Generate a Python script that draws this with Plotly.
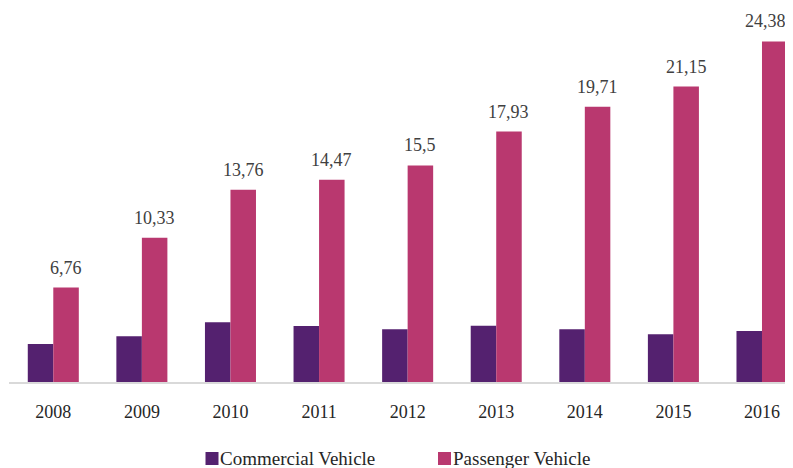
import plotly.graph_objects as go

years = ["2008", "2009", "2010", "2011", "2012", "2013", "2014", "2015", "2016"]
commercial = [2.72, 3.27, 4.27, 4.01, 3.77, 4.03, 3.77, 3.41, 3.65]
passenger = [6.76, 10.33, 13.76, 14.47, 15.5, 17.93, 19.71, 21.15, 24.38]
passenger_labels = ["6,76", "10,33", "13,76", "14,47", "15,5", "17,93", "19,71", "21,15", "24,38"]
series_names = ["Commercial Vehicle", "Passenger Vehicle"]
colors = ["#54216F", "#B9386F"]

font_family = "Liberation Serif, Times New Roman, serif"

# the page body adds an 8px offset; plot area spans window x 9..793, y 8..382
PLOT_W = 784.0
PLOT_H = 374.0
BARGAP = 0.424
cat_px = PLOT_W / 8.85
bar_px = cat_px * (1 - BARGAP) / 2

fig = go.Figure()
fig.add_trace(go.Bar(x=years, y=commercial, name=series_names[0],
                     marker=dict(color=colors[0], line=dict(width=0))))
fig.add_trace(go.Bar(x=years, y=passenger, name=series_names[1],
                     marker=dict(color=colors[1], line=dict(width=0))))

n = len(passenger)
for i, (val, lab) in enumerate(zip(passenger, passenger_labels)):
    # the last label is nudged left so it stays inside the figure, as in the reference
    shift = bar_px / 2 - (9 if i == n - 1 else 0)
    fig.add_annotation(x=i, y=val, xref="x", yref="y", text=lab, showarrow=False,
                       xanchor="center", yanchor="bottom", xshift=shift, yshift=8,
                       font=dict(family=font_family, size=18, color="#404040"))

fig.update_layout(
    width=785, height=460,
    margin=dict(l=1, r=0, t=0, b=86),
    paper_bgcolor="white", plot_bgcolor="white",
    barmode="group", bargap=BARGAP, bargroupgap=0,
    showlegend=False,
    font=dict(family=font_family, size=18, color="#262626"),
    xaxis=dict(type="category", range=[-0.5, 8.35], showline=True, linecolor="#D9D9D9",
               linewidth=2, ticks="", showgrid=False, ticklabelstandoff=12,
               tickfont=dict(family=font_family, size=18, color="#262626")),
    yaxis=dict(range=[0, PLOT_H / 13.97], visible=False, showgrid=False),
)

# manual legend, in window pixel coordinates converted to paper units
legend_x = [205.5, 438.0]
for i, name in enumerate(series_names):
    fig.add_shape(type="rect", xref="paper", yref="paper",
                  x0=(legend_x[i] - 9) / PLOT_W, x1=(legend_x[i] + 4) / PLOT_W,
                  y0=(382 - 465) / PLOT_H, y1=(382 - 452) / PLOT_H,
                  fillcolor=colors[i], line=dict(width=0))
    fig.add_annotation(xref="paper", yref="paper",
                       x=(legend_x[i] + 4.5 - 1) / PLOT_W, y=(382 - 458.5) / PLOT_H,
                       xanchor="left", yanchor="middle", showarrow=False,
                       text=name, font=dict(family=font_family, size=19, color="#262626"))

fig.write_html("out.html")
